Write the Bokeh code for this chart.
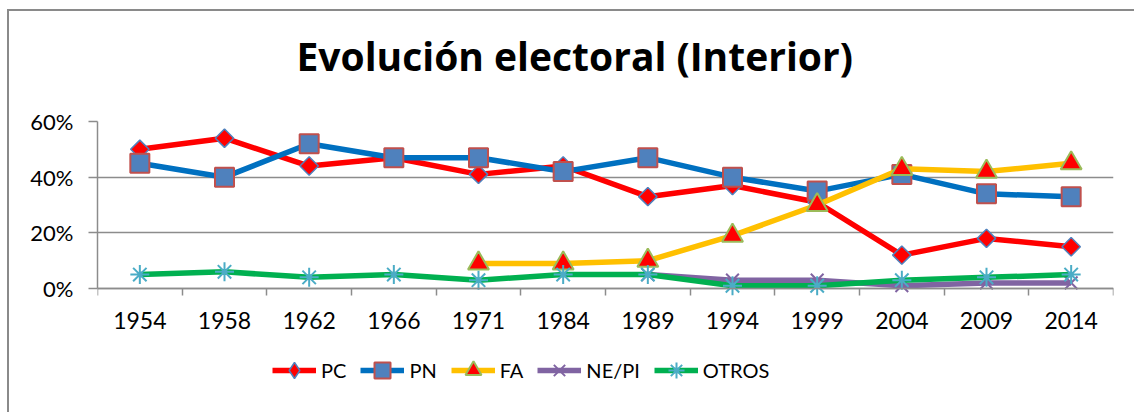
from bokeh.plotting import figure
from bokeh.models import (ColumnDataSource, FixedTicker, PrintfTickFormatter, Legend,
                          LegendItem, Range1d, Title)
from bokeh.embed import file_html
from bokeh.resources import INLINE
import math

years = ["1954", "1958", "1962", "1966", "1971", "1984", "1989", "1994", "1999", "2004", "2009", "2014"]
pc = [50, 54, 44, 47, 41, 44, 33, 37, 31, 12, 18, 15]
pn = [45, 40, 52, 47, 47, 42, 47, 40, 35, 41, 34, 33]
fa = [None, None, None, None, 9, 9, 10, 19, 30, 43, 42, 45]
ne_pi = [None, None, None, None, None, None, 5, 3, 3, 1, 2, 2]
otros = [5, 6, 4, 5, 3, 5, 5, 1, 1, 3, 4, 5]
y_ticks = [0, 20, 40, 60]
title_text = "Evolución electoral (Interior)"

xs = [i + 0.5 for i in range(len(years))]

FONT = "Lato"
BORDER = "#8a8a8a"

# layout: value axis spans 0..60 over 167 px; frame extends 112 px below 0 to host the legend
Y_MAX = 60
y_min = -Y_MAX * 112 / 167

p = figure(width=1134, height=412, output_backend="svg", toolbar_location=None,
           x_range=Range1d(0, len(years)), y_range=Range1d(y_min, Y_MAX),
           min_border_left=97, min_border_right=21, min_border_top=121, min_border_bottom=12,
           outline_line_color=None, background_fill_color="white", border_fill_color=None,
           title=title_text)
p.styles = {
    "background-color": "white",
    "background-image": f"linear-gradient({BORDER},{BORDER}), linear-gradient({BORDER},{BORDER})",
    "background-position": "7px 9px, 7px 9px",
    "background-size": "2px 100%, 100% 2px",
    "background-repeat": "no-repeat",
}

p.title.align = "left"
p.title.offset = 199
p.title.standoff = 30
p.title.text_font = "Open Sans"
p.title.text_font_size = "39px"
p.title.text_font_style = "bold"
p.title.text_color = "black"

spacer = Title(text=" ", text_font_size="19px", standoff=0, text_font=FONT)
p.add_layout(spacer, "above")

# grid & axes
GRID = "#8c8c8c"
p.xgrid.visible = False
p.ygrid.ticker = FixedTicker(ticks=y_ticks)
p.ygrid.grid_line_color = GRID
p.ygrid.grid_line_width = 1.5

p.yaxis.ticker = FixedTicker(ticks=y_ticks)
p.yaxis.bounds = (0, Y_MAX)
p.yaxis.formatter = PrintfTickFormatter(format="%d%%")
p.yaxis.axis_line_color = GRID
p.yaxis.axis_line_width = 1.5
p.yaxis.major_tick_line_color = GRID
p.yaxis.major_tick_line_width = 1.5
p.yaxis.major_tick_out = 9
p.yaxis.major_tick_in = 0
p.yaxis.minor_tick_line_color = None
p.yaxis.major_label_standoff = 15
p.yaxis.major_label_text_font = FONT
p.yaxis.major_label_text_font_size = "22px"
p.yaxis.major_label_text_color = "black"

p.xaxis.fixed_location = 0
p.xaxis.ticker = FixedTicker(ticks=xs, minor_ticks=list(range(len(years) + 1)))
p.xaxis.major_label_overrides = {x: y for x, y in zip(xs, years)}
p.xaxis.axis_line_color = GRID
p.xaxis.axis_line_width = 1.5
p.xaxis.major_tick_line_color = None
p.xaxis.major_tick_out = 0
p.xaxis.major_tick_in = 0
p.xaxis.minor_tick_line_color = GRID
p.xaxis.minor_tick_line_width = 1.5
p.xaxis.minor_tick_out = 7
p.xaxis.minor_tick_in = 0
p.xaxis.major_label_standoff = 16
p.xaxis.major_label_text_font = FONT
p.xaxis.major_label_text_font_size = "23px"
p.xaxis.major_label_text_color = "black"

LW = 5.5
series = [
    ("PC", pc, "#FF0000", dict(marker="square", angle=math.pi / 4, size=13, fill_color="#FF0000",
                               line_color="#4F81BD", line_width=1.5)),
    ("PN", pn, "#0070C0", dict(marker="square", size=19, fill_color="#4F81BD",
                               line_color="#C0504D", line_width=2)),
    ("FA", fa, "#FFC000", dict(marker="triangle", size=21, fill_color="#FF0000",
                               line_color="#9BBB59", line_width=2)),
    ("NE/PI", ne_pi, "#8064A2", dict(marker="x", size=18, line_color="#8064A2", line_width=2)),
    ("OTROS", otros, "#00B050", dict(marker="asterisk", size=19, line_color="#4BACC6", line_width=2)),
]

items = []
for name, vals, color, mk in series:
    px = [x for x, v in zip(xs, vals) if v is not None]
    pv = [v for v in vals if v is not None]
    src = ColumnDataSource(dict(x=px, y=pv))
    lr = p.line("x", "y", source=src, line_color=color, line_width=LW, line_join="round")
    if mk.get("angle"):
        # unrotated diamond underneath, used for the legend swatch
        under = p.scatter("x", "y", source=src, marker="diamond", size=17,
                          fill_color=mk["fill_color"], line_color=mk["line_color"],
                          line_width=mk["line_width"])
        sr = p.scatter("x", "y", source=src, **mk)
        items.append(LegendItem(label=name, renderers=[lr, under]))
    else:
        sr = p.scatter("x", "y", source=src, **mk)
        items.append(LegendItem(label=name, renderers=[lr, sr]))

legend = Legend(items=items, orientation="horizontal", location=(175, 10),
                glyph_width=44, glyph_height=40, label_height=20, label_standoff=5, spacing=14,
                padding=0, margin=0, border_line_color=None, background_fill_alpha=0,
                label_text_font=FONT, label_text_font_size="20px", label_text_color="black")
p.add_layout(legend, "center")

html = file_html(p, INLINE)
html = html.replace("</head>", "<style>html, body { overflow: hidden; }</style></head>", 1)
open("out.html", "w").write(html)
